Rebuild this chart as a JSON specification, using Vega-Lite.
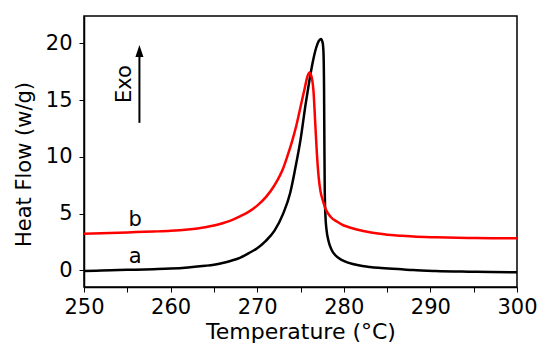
{
  "$schema": "https://vega.github.io/schema/vega-lite/v6.json",
  "width": 433,
  "height": 271,
  "autosize": {"type": "none"},
  "padding": {"left": 84, "top": 16, "right": 33, "bottom": 68},
  "background": "white",
  "config": {
    "view": {"stroke": "black", "strokeWidth": 1.5},
    "font": "DejaVu Sans",
    "axis": {"grid": false, "domainColor": "black", "domainWidth": 1.5, "tickColor": "black", "tickWidth": 1, "labelColor": "black", "titleColor": "black", "labelFont": "DejaVu Sans", "titleFont": "DejaVu Sans", "titleFontWeight": "normal"}
  },
  "datasets": {
    "curves": [
      {"s": "a", "t": 250, "hf": -0.05},
      {"s": "a", "t": 252, "hf": -0.02},
      {"s": "a", "t": 254, "hf": 0.02},
      {"s": "a", "t": 256, "hf": 0.06},
      {"s": "a", "t": 258, "hf": 0.1},
      {"s": "a", "t": 260, "hf": 0.15},
      {"s": "a", "t": 262, "hf": 0.25},
      {"s": "a", "t": 264, "hf": 0.4},
      {"s": "a", "t": 265, "hf": 0.5},
      {"s": "a", "t": 266, "hf": 0.65},
      {"s": "a", "t": 267, "hf": 0.85},
      {"s": "a", "t": 268, "hf": 1.1},
      {"s": "a", "t": 269, "hf": 1.5},
      {"s": "a", "t": 270, "hf": 1.95},
      {"s": "a", "t": 271, "hf": 2.6},
      {"s": "a", "t": 272, "hf": 3.5},
      {"s": "a", "t": 273, "hf": 5.0},
      {"s": "a", "t": 273.8, "hf": 6.8},
      {"s": "a", "t": 274.4, "hf": 9.0},
      {"s": "a", "t": 275, "hf": 11.5},
      {"s": "a", "t": 275.6, "hf": 14.7},
      {"s": "a", "t": 276, "hf": 16.6},
      {"s": "a", "t": 276.4, "hf": 18.3},
      {"s": "a", "t": 276.8, "hf": 19.6},
      {"s": "a", "t": 277.1, "hf": 20.2},
      {"s": "a", "t": 277.35, "hf": 20.4},
      {"s": "a", "t": 277.55, "hf": 20.1},
      {"s": "a", "t": 277.65, "hf": 19.3},
      {"s": "a", "t": 277.72, "hf": 16},
      {"s": "a", "t": 277.76, "hf": 11},
      {"s": "a", "t": 277.8, "hf": 7},
      {"s": "a", "t": 277.88, "hf": 4.8},
      {"s": "a", "t": 278, "hf": 3.6},
      {"s": "a", "t": 278.2, "hf": 2.7},
      {"s": "a", "t": 278.6, "hf": 1.8},
      {"s": "a", "t": 279, "hf": 1.35},
      {"s": "a", "t": 279.8, "hf": 0.9},
      {"s": "a", "t": 280.5, "hf": 0.68},
      {"s": "a", "t": 281.7, "hf": 0.44},
      {"s": "a", "t": 283, "hf": 0.3},
      {"s": "a", "t": 284, "hf": 0.22},
      {"s": "a", "t": 286.7, "hf": 0.09},
      {"s": "a", "t": 288, "hf": 0.02},
      {"s": "a", "t": 290.6, "hf": -0.06},
      {"s": "a", "t": 294.4, "hf": -0.12},
      {"s": "a", "t": 297, "hf": -0.15},
      {"s": "a", "t": 300, "hf": -0.17},
      {"s": "b", "t": 250, "hf": 3.22},
      {"s": "b", "t": 252, "hf": 3.27},
      {"s": "b", "t": 254, "hf": 3.32},
      {"s": "b", "t": 256, "hf": 3.37},
      {"s": "b", "t": 258, "hf": 3.42},
      {"s": "b", "t": 260, "hf": 3.48},
      {"s": "b", "t": 262, "hf": 3.6},
      {"s": "b", "t": 264, "hf": 3.8},
      {"s": "b", "t": 265, "hf": 3.95},
      {"s": "b", "t": 266, "hf": 4.15},
      {"s": "b", "t": 267, "hf": 4.4},
      {"s": "b", "t": 268, "hf": 4.75},
      {"s": "b", "t": 269, "hf": 5.15},
      {"s": "b", "t": 270, "hf": 5.7},
      {"s": "b", "t": 271, "hf": 6.45},
      {"s": "b", "t": 272, "hf": 7.5},
      {"s": "b", "t": 273, "hf": 9.0},
      {"s": "b", "t": 273.5, "hf": 10.1},
      {"s": "b", "t": 274, "hf": 11.3},
      {"s": "b", "t": 274.5, "hf": 12.7},
      {"s": "b", "t": 275, "hf": 14.4},
      {"s": "b", "t": 275.5, "hf": 16.1},
      {"s": "b", "t": 275.8, "hf": 17.1},
      {"s": "b", "t": 276.05, "hf": 17.45},
      {"s": "b", "t": 276.3, "hf": 17.0},
      {"s": "b", "t": 276.5, "hf": 15.8},
      {"s": "b", "t": 276.7, "hf": 13.0},
      {"s": "b", "t": 276.9, "hf": 10.2},
      {"s": "b", "t": 277.1, "hf": 8.2},
      {"s": "b", "t": 277.3, "hf": 7.0},
      {"s": "b", "t": 277.6, "hf": 6.1},
      {"s": "b", "t": 277.9, "hf": 5.4},
      {"s": "b", "t": 278.5, "hf": 4.7},
      {"s": "b", "t": 279.2, "hf": 4.3},
      {"s": "b", "t": 280, "hf": 3.95},
      {"s": "b", "t": 280.6, "hf": 3.8},
      {"s": "b", "t": 281.5, "hf": 3.6},
      {"s": "b", "t": 283, "hf": 3.35},
      {"s": "b", "t": 284, "hf": 3.24},
      {"s": "b", "t": 285, "hf": 3.14},
      {"s": "b", "t": 286.7, "hf": 3.05},
      {"s": "b", "t": 288, "hf": 2.98},
      {"s": "b", "t": 290.6, "hf": 2.91},
      {"s": "b", "t": 294.4, "hf": 2.85},
      {"s": "b", "t": 297, "hf": 2.83},
      {"s": "b", "t": 300, "hf": 2.82}
    ],
    "labels": [
      {"txt": "b", "t": 255.9, "hf": 3.88},
      {"txt": "a", "t": 255.9, "hf": 0.68}
    ],
    "arrow": [
      {"t": 256.4, "y1": 13.0, "y2": 19.0}
    ],
    "head": [
      {"t": 256.4, "hf": 19.33}
    ],
    "exo": [
      {"txt": "Exo", "t": 255.42, "hf": 16.42}
    ]
  },
  "layer": [
    {
      "data": {"name": "curves"},
      "mark": {"type": "line", "strokeWidth": 2.5, "interpolate": "monotone", "clip": true},
      "encoding": {
        "x": {"field": "t", "type": "quantitative", "scale": {"domain": [250, 300], "nice": false, "zero": false},
          "axis": {"title": "Temperature (\u00b0C)", "values": [250, 255, 260, 265, 270, 275, 280, 285, 290, 295, 300],
            "labelExpr": "datum.value % 10 === 0 ? datum.label : ''", "labelOverlap": false, "labelFlush": false,
            "labelFontSize": 21, "titleFontSize": 22, "tickSize": 5, "labelBaseline": "alphabetic", "labelPadding": 21,
            "titleBaseline": "alphabetic", "titleY": 51}},
        "y": {"field": "hf", "type": "quantitative", "scale": {"domain": [-1.47, 22.42], "nice": false, "zero": false},
          "axis": {"title": "Heat Flow (w/g)", "values": [0, 2.5, 5, 7.5, 10, 12.5, 15, 17.5, 20],
            "labelExpr": "datum.value % 5 === 0 ? datum.label : ''", "labelOverlap": false, "labelFlush": false,
            "labelFontSize": 21, "titleFontSize": 21, "tickSize": 5, "labelPadding": 7,
            "titleBaseline": "alphabetic", "titleX": -54, "titleY": 148}},
        "color": {"field": "s", "type": "nominal", "scale": {"domain": ["a", "b"], "range": ["#000000", "#ff0000"]}, "legend": null},
        "order": {"field": "t", "type": "quantitative"}
      }
    },
    {
      "data": {"name": "labels"},
      "mark": {"type": "text", "fontSize": 21, "align": "center", "baseline": "alphabetic", "color": "black"},
      "encoding": {
        "x": {"field": "t", "type": "quantitative"},
        "y": {"field": "hf", "type": "quantitative"},
        "text": {"field": "txt"}
      }
    },
    {
      "data": {"name": "arrow"},
      "mark": {"type": "rule", "strokeWidth": 2, "color": "black"},
      "encoding": {
        "x": {"field": "t", "type": "quantitative"},
        "y": {"field": "y1", "type": "quantitative"},
        "y2": {"field": "y2"}
      }
    },
    {
      "data": {"name": "head"},
      "mark": {"type": "point", "shape": "M0,-1L0.67,1L-0.67,1Z", "filled": true, "size": 144, "color": "black", "opacity": 1},
      "encoding": {
        "x": {"field": "t", "type": "quantitative"},
        "y": {"field": "hf", "type": "quantitative"}
      }
    },
    {
      "data": {"name": "exo"},
      "mark": {"type": "text", "fontSize": 21, "align": "center", "baseline": "alphabetic", "angle": 270, "color": "black"},
      "encoding": {
        "x": {"field": "t", "type": "quantitative"},
        "y": {"field": "hf", "type": "quantitative"},
        "text": {"field": "txt"}
      }
    }
  ]
}
